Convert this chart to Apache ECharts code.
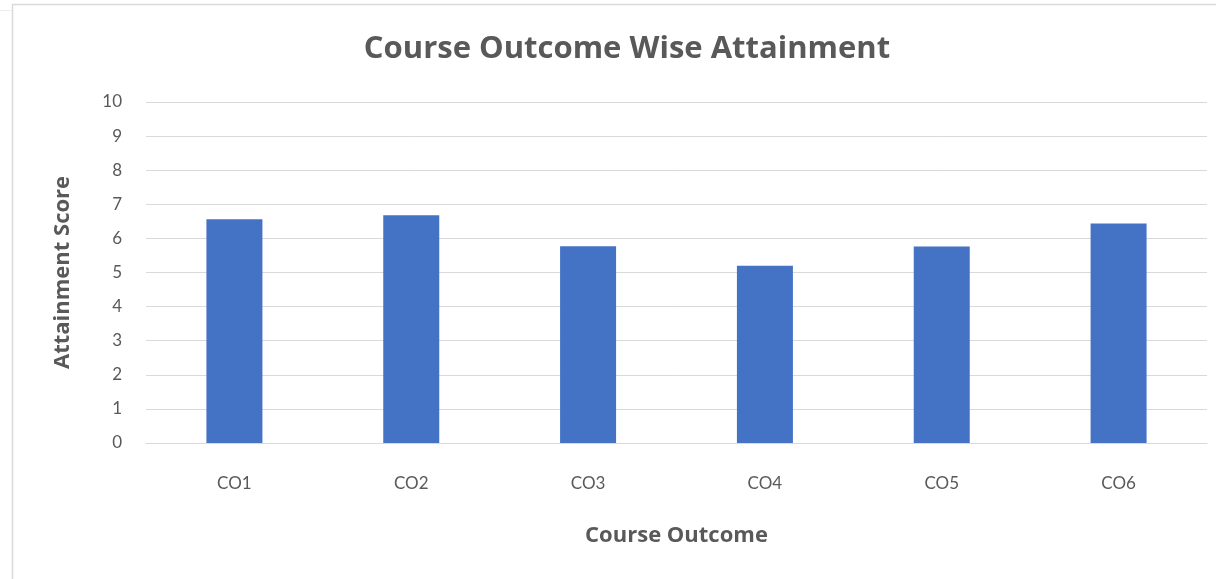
<!DOCTYPE html>
<html>
<head>
<meta charset="utf-8">
<script src="https://cdn.jsdelivr.net/npm/echarts@6/dist/echarts.min.js"></script>
<style>
html,body{margin:0;padding:0;background:#fff;}
#c{width:1216px;height:579px;}
</style>
</head>
<body>
<div id="c"></div>
<script>
const categories = ['CO1', 'CO2', 'CO3', 'CO4', 'CO5', 'CO6'];
const attainment = [6.56, 6.68, 5.77, 5.2, 5.76, 6.44];
const yTicks = [0, 1, 2, 3, 4, 5, 6, 7, 8, 9, 10];

const FONT = 'Lato, "Open Sans", sans-serif';
const BOLD = '"Open Sans", Lato, sans-serif';
const chart = echarts.init(document.getElementById('c'), null, {renderer: 'canvas'});
chart.setOption({
  animation: false,
  backgroundColor: '#ffffff',
  graphic: [
    {type: 'rect', shape: {x: 12.5, y: 4.5, width: 1300, height: 700},
     style: {fill: 'none', stroke: '#d9d9d9', lineWidth: 1.5}, silent: true},
    {type: 'line', shape: {x1: 0, y1: 10.5, x2: 12, y2: 10.5},
     style: {stroke: '#ececec', lineWidth: 1}, silent: true}
  ],
  title: {
    text: 'Course Outcome Wise Attainment',
    left: 622, top: 29, textAlign: 'center',
    textStyle: {fontFamily: BOLD, fontSize: 31, fontWeight: 'bold', color: '#595959'}
  },
  grid: {left: 146, right: 9, top: 102, bottom: 136, containLabel: false},
  xAxis: {
    type: 'category',
    data: categories,
    name: 'Course Outcome',
    nameLocation: 'middle',
    nameGap: 82,
    nameTextStyle: {fontFamily: BOLD, fontSize: 22, fontWeight: 'bold', color: '#595959'},
    axisLine: {show: true, lineStyle: {color: '#d9d9d9', width: 1}},
    axisTick: {show: false},
    axisLabel: {fontFamily: FONT, fontSize: 17, color: '#595959', margin: 32}
  },
  yAxis: {
    type: 'value',
    min: 0, max: 10, interval: 1,
    name: 'Attainment Score',
    nameLocation: 'middle',
    nameGap: 72,
    nameRotate: 90,
    nameTextStyle: {fontFamily: BOLD, fontSize: 22, fontWeight: 'bold', color: '#595959'},
    axisLine: {show: false},
    axisTick: {show: false},
    splitLine: {show: true, lineStyle: {color: '#d9d9d9', width: 1}},
    axisLabel: {fontFamily: FONT, fontSize: 17, color: '#595959', margin: 24,
      formatter: v => yTicks.includes(v) ? String(v) : ''}
  },
  series: [{
    type: 'bar',
    data: attainment,
    barWidth: 56,
    itemStyle: {color: '#4472c4'}
  }]
});
</script>
</body>
</html>
